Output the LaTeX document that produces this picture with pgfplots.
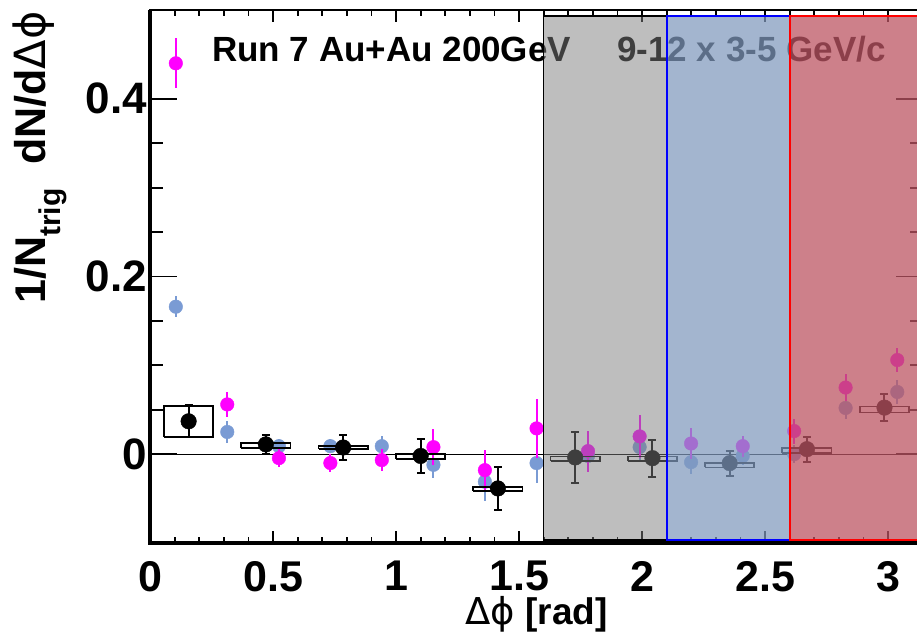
\documentclass[border=0pt]{standalone}
\usepackage{fontspec}
\setmainfont{Liberation Sans}
\newfontfamily\dejavu{DejaVu Sans}
\usepackage{pgfplots}
\pgfplotsset{compat=1.18}
\definecolor{cblue}{RGB}{122,155,212}
\definecolor{mag}{RGB}{255,0,255}
\definecolor{regGray}{RGB}{125,125,125}
\definecolor{regBlue}{RGB}{128,153,189}
\definecolor{regRed}{RGB}{188,85,99}
\pgfplotsset{base/.style={
  scale only axis, width=773pt, height=533pt,
  xmin=0, xmax=3.14159, ymin=-0.1, ymax=0.5,
  at={(0,0)}, anchor=south west,
  axis line style={line width=2.5pt},
  tick style={line width=1.8pt, black},
  tick pos=both, tick align=inside,
  clip mode=individual,
}}
\begin{document}
\begin{tikzpicture}
% axis 1: y ticks (longer) and frame emphasis
\begin{axis}[base,
  xtick=\empty,
  ytick={0,0.2,0.4}, yticklabels={0,0.2,0.4},
  minor y tick num=3,
  major tick length=27pt, minor tick length=13pt,
  yticklabel style={anchor=east, inner sep=0pt, xshift=-3pt, font=\bfseries\fontsize{44}{44}\selectfont},
]
\addplot[draw=none] coordinates {(0,0)};
\draw[line width=4.5pt] (rel axis cs:0,1) -- (rel axis cs:0,0) -- (rel axis cs:1,0);
\end{axis}
% axis 2: x ticks, data, regions
\begin{axis}[base,
  ytick=\empty,
  xtick={0,0.5,1,1.5,2,2.5,3}, xticklabels={0,0.5,1,1.5,2,2.5,3},
  minor x tick num=4,
  major tick length=12pt, minor tick length=6pt,
  xticklabel style={anchor=north, inner sep=0pt, yshift=-18pt, font=\bfseries\fontsize{43}{43}\selectfont},
]
% zero line
\addplot[black, line width=1.3pt] coordinates {(0,0) (3.1416,0)};
% blue series
\addplot[only marks, mark=*, mark size=6.8pt, color=cblue, mark options={fill=cblue, draw=cblue},
  error bars/.cd, y dir=both, y explicit, error mark=none, error bar style={line width=2pt, cblue}]
  coordinates {
  (0.105,0.166) +- (0,0.012)
  (0.314,0.025) +- (0,0.012)
  (0.524,0.009) +- (0,0.008)
  (0.733,0.009) +- (0,0.008)
  (0.942,0.009) +- (0,0.012)
  (1.152,-0.012) +- (0,0.015)
  (1.361,-0.031) +- (0,0.022)
  (1.571,-0.010) +- (0,0.022)
  (1.780,-0.002) +- (0,0.015)
  (1.990,0.008) +- (0,0.015)
  (2.199,-0.009) +- (0,0.013)
  (2.409,-0.002) +- (0,0.010)
  (2.618,0.000) +- (0,0.010)
  (2.827,0.052) +- (0,0.012)
  (3.037,0.070) +- (0,0.013)
  };
% magenta series
\addplot[only marks, mark=*, mark size=6.8pt, color=mag, mark options={fill=mag, draw=mag},
  error bars/.cd, y dir=both, y explicit, error mark=none, error bar style={line width=2pt, mag}]
  coordinates {
  (0.105,0.440) +- (0,0.028)
  (0.314,0.056) +- (0,0.014)
  (0.524,-0.0045) +- (0,0.010)
  (0.733,-0.010) +- (0,0.010)
  (0.942,-0.0067) +- (0,0.012)
  (1.152,0.0079) +- (0,0.020)
  (1.361,-0.018) +- (0,0.023)
  (1.571,0.029) +- (0,0.033)
  (1.780,0.0034) +- (0,0.023)
  (1.990,0.020) +- (0,0.024)
  (2.199,0.012) +- (0,0.017)
  (2.409,0.009) +- (0,0.012)
  (2.618,0.026) +- (0,0.014)
  (2.827,0.075) +- (0,0.015)
  (3.037,0.106) +- (0,0.014)
  };
% systematic boxes
\addplot[black, line width=1.8pt, unbounded coords=jump] coordinates {
  (0.057,0.019) (0.257,0.019) (0.257,0.054) (0.057,0.054) (0.057,0.019) (nan,nan)
  (0.371,0.0065) (0.571,0.0065) (0.571,0.0125) (0.371,0.0125) (0.371,0.0065) (nan,nan)
  (0.685,0.0055) (0.885,0.0055) (0.885,0.0095) (0.685,0.0095) (0.685,0.0055) (nan,nan)
  (1.000,-0.005) (1.200,-0.005) (1.200,0.0) (1.000,0.0) (1.000,-0.005) (nan,nan)
  (1.314,-0.0416) (1.514,-0.0416) (1.514,-0.037) (1.314,-0.037) (1.314,-0.0416) (nan,nan)
  (1.628,-0.0075) (1.828,-0.0075) (1.828,-0.0026) (1.628,-0.0026) (1.628,-0.0075) (nan,nan)
  (1.942,-0.0075) (2.142,-0.0075) (2.142,-0.0026) (1.942,-0.0026) (1.942,-0.0075) (nan,nan)
  (2.256,-0.015) (2.456,-0.015) (2.456,-0.0101) (2.256,-0.0101) (2.256,-0.015) (nan,nan)
  (2.570,0.0011) (2.770,0.0011) (2.770,0.0067) (2.570,0.0067) (2.570,0.0011) (nan,nan)
  (2.885,0.0468) (3.085,0.0468) (3.085,0.0536) (2.885,0.0536) (2.885,0.0468)
  };
% black series
\addplot[only marks, mark=*, mark size=7.8pt, color=black, mark options={fill=black, draw=black},
  error bars/.cd, y dir=both, y explicit, error mark=-,
  error bar style={line width=2pt, black},
  error mark options={line width=2pt, mark size=4pt, black, rotate=90}]
  coordinates {
  (0.157,0.037) +- (0,0.018)
  (0.471,0.011) +- (0,0.011)
  (0.785,0.0075) +- (0,0.0145)
  (1.100,-0.002) +- (0,0.019)
  (1.414,-0.0386) +- (0,0.0245)
  (1.728,-0.0037) +- (0,0.0287)
  (2.042,-0.0045) +- (0,0.021)
  (2.356,-0.0101) +- (0,0.014)
  (2.670,0.0056) +- (0,0.014)
  (2.985,0.0524) +- (0,0.015)
  };
% title text
\node[anchor=base west, inner sep=0pt, font=\bfseries\fontsize{35}{35}\selectfont] at (axis cs:0.252,0.4416) {Run 7 Au+Au 200GeV};
\node[anchor=base west, inner sep=0pt, font=\bfseries\fontsize{35}{35}\selectfont] at (axis cs:1.898,0.4416) {9-12 x 3-5 GeV/c};
% shaded regions
\draw[fill=regGray, fill opacity=0.5, draw=black, line width=1.5pt] (axis cs:1.6,-0.0966) rectangle (axis cs:2.1,0.493);
\draw[fill=regBlue, fill opacity=0.72, draw=blue, line width=1.8pt] (axis cs:2.1,-0.0966) rectangle (axis cs:2.6,0.493);
\draw[fill=regRed, fill opacity=0.75, draw=red, line width=1.8pt] (axis cs:2.6,-0.0966) rectangle (axis cs:3.4,0.493);
% axis titles
\node[rotate=90, anchor=east, inner sep=0pt, font=\bfseries\fontsize{43}{43}\selectfont] at ([xshift=-110pt]axis description cs:0,0.998) {1/N\raisebox{-0.35em}{\fontsize{30}{30}\selectfont trig}\ \ dN/d{\dejavu\mdseries Δϕ}};
\node[anchor=base, inner sep=0pt, font=\bfseries\fontsize{37}{37}\selectfont] at ([yshift=-81pt]axis description cs:0.5,0) {{\dejavu\mdseries Δϕ} [rad]};
\end{axis}
\pgfresetboundingbox
\path[use as bounding box] (-150pt,-91pt) rectangle (767pt,543pt);
\end{tikzpicture}
\end{document}
